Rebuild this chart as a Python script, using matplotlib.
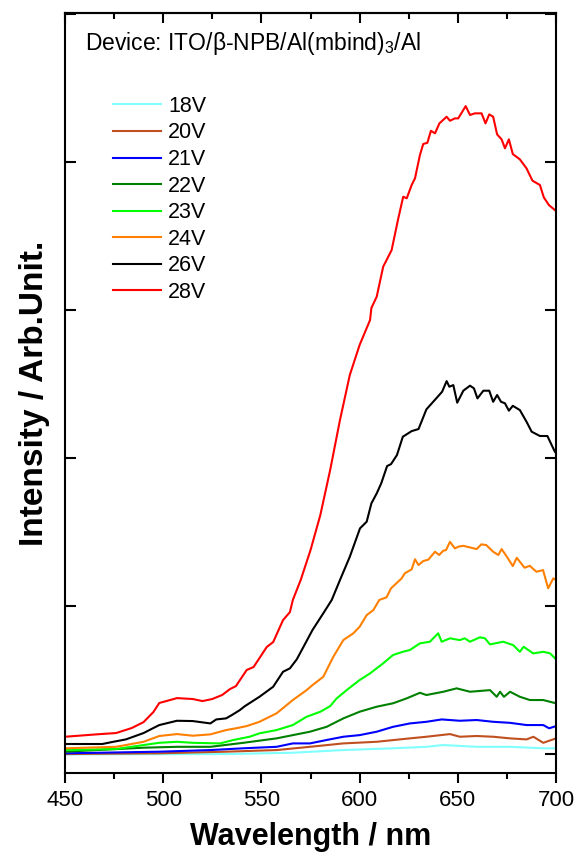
import matplotlib
matplotlib.use("Agg")
import matplotlib.pyplot as plt
from matplotlib.ticker import MultipleLocator, NullFormatter

plt.rcParams['font.family'] = ['Liberation Sans', 'DejaVu Sans']
plt.rcParams['mathtext.fontset'] = 'custom'
plt.rcParams['mathtext.rm'] = 'Liberation Sans'

# spectra (arbitrary units)
wl_18 = [450, 532, 566, 591.7, 617, 634, 642.6, 659.6, 676.6, 693.5, 700]
int_18 = [-0.002, 0.0, 0.009, 0.027, 0.039, 0.049, 0.061, 0.049, 0.049, 0.039, 0.039]

wl_20 = [450, 498, 532, 557.7, 574.7, 591.7, 608.7, 625.6, 634, 646, 651, 659.6,
         668, 676.6, 685, 688.5, 693.5, 700]
int_20 = [0.0, 0.005, 0.016, 0.027, 0.049, 0.072, 0.083, 0.106, 0.117, 0.135, 0.117,
          0.122, 0.117, 0.106, 0.099, 0.117, 0.076, 0.106]

wl_21 = [450, 498, 524, 540.8, 557.7, 566, 574.7, 583.2, 591.7, 600, 608.7, 617,
         625.6, 634, 641.8, 651, 659.6, 668, 676.6, 685, 693.5, 696.5, 700]
int_21 = [0.005, 0.016, 0.027, 0.039, 0.049, 0.072, 0.072, 0.095, 0.117, 0.128,
          0.151, 0.184, 0.207, 0.218, 0.234, 0.225, 0.230, 0.218, 0.211, 0.196,
          0.196, 0.174, 0.189]

wl_22 = [450, 490, 507, 524, 540.8, 557.7, 574.7, 583.2, 591.7, 600, 608.7, 617,
         623.9, 630.7, 634, 642.6, 649.4, 656.2, 666.4, 669.8, 671.5, 673.5, 676.6,
         681.6, 686.7, 693.5, 700]
int_22 = [0.016, 0.043, 0.049, 0.049, 0.076, 0.106, 0.151, 0.184, 0.241, 0.286,
          0.320, 0.343, 0.376, 0.414, 0.399, 0.421, 0.444, 0.421, 0.432, 0.387,
          0.421, 0.387, 0.421, 0.387, 0.365, 0.365, 0.343]

wl_23 = [450, 476, 490, 498, 507, 515, 529, 535.7, 544, 549, 557.7, 566, 573, 580,
         585, 588.3, 593.4, 600, 605.3, 612, 617, 622, 625.6, 630.7, 635.8, 640,
         641.8, 646, 651, 653.5, 656.2, 661.3, 663.8, 666.4, 673.1, 678.2, 681.6,
         683.5, 688.4, 693.5, 697, 700]
int_23 = [0.027, 0.034, 0.061, 0.076, 0.083, 0.076, 0.072, 0.095, 0.117, 0.140,
          0.162, 0.196, 0.252, 0.286, 0.324, 0.376, 0.432, 0.500, 0.545, 0.613,
          0.669, 0.691, 0.703, 0.748, 0.759, 0.816, 0.759, 0.782, 0.770, 0.782,
          0.759, 0.789, 0.782, 0.741, 0.759, 0.736, 0.691, 0.725, 0.680, 0.691,
          0.680, 0.640]

wl_24 = [450, 476, 490, 498, 507, 515, 524, 532, 537, 542.5, 549, 557.7, 566, 573,
         576, 581.5, 586.6, 591.7, 596.8, 600, 603.6, 607, 610, 613.7, 616, 621.4,
         623, 626.5, 628.2, 630, 632.4, 635, 638.4, 640.5, 642.6, 644, 646, 648.5,
         650.5, 652.8, 659.6, 662, 664.5, 668, 670.6, 672.3, 675, 678, 680, 684,
         686.6, 690, 693.4, 696, 698.6, 700]
int_24 = [0.039, 0.049, 0.083, 0.122, 0.135, 0.124, 0.133, 0.162, 0.174, 0.189,
          0.218, 0.275, 0.365, 0.432, 0.466, 0.522, 0.657, 0.770, 0.816, 0.860,
          0.939, 0.973, 1.041, 1.059, 1.120, 1.187, 1.221, 1.248, 1.316, 1.277,
          1.304, 1.314, 1.367, 1.345, 1.374, 1.378, 1.434, 1.390, 1.402, 1.407,
          1.385, 1.417, 1.412, 1.367, 1.345, 1.385, 1.333, 1.270, 1.326, 1.259,
          1.272, 1.232, 1.243, 1.120, 1.187, 1.176]

wl_26 = [450, 469, 474.6, 481, 490, 495, 498, 507, 515, 524, 527, 532, 535, 539,
         541.6, 549, 556, 561, 564.5, 568, 571, 576, 581.5, 585.8, 590, 595, 600.2,
         603.6, 606, 608.7, 611, 614, 616, 619, 622, 626.5, 630, 634, 639, 642,
         644.3, 645.7, 647.7, 649.7, 652.8, 656.2, 658.2, 660, 663, 666, 668, 670,
         672, 674, 676, 678, 681.6, 685, 687.6, 691.8, 695.6, 699.4, 700]
int_26 = [0.068, 0.068, 0.083, 0.099, 0.142, 0.176, 0.196, 0.225, 0.223, 0.207,
          0.234, 0.241, 0.264, 0.297, 0.324, 0.387, 0.455, 0.556, 0.579, 0.640,
          0.714, 0.838, 0.951, 1.041, 1.176, 1.333, 1.525, 1.570, 1.694, 1.761,
          1.829, 1.946, 1.959, 2.020, 2.144, 2.182, 2.196, 2.329, 2.403, 2.448,
          2.520, 2.482, 2.493, 2.374, 2.455, 2.489, 2.471, 2.403, 2.455, 2.455,
          2.380, 2.426, 2.380, 2.370, 2.320, 2.353, 2.324, 2.245, 2.178, 2.149,
          2.149, 2.043, 2.034]

wl_28 = [450, 468, 476, 484, 490, 495, 498, 507, 515, 520, 525, 530, 534, 537,
         542.5, 546, 552.7, 556, 561, 564.5, 566, 570, 575, 580, 585, 590, 595,
         600, 605.3, 606, 608.7, 612, 616.3, 619.7, 622.2, 624, 626.5, 628.2, 630.7,
         632.4, 634.5, 636.3, 638.4, 640.6, 644.3, 646, 648.5, 650.2, 654, 656.2,
         658.7, 662.1, 664.1, 666, 668, 670, 672.3, 674, 676, 678, 681.6, 685, 688,
         691.8, 693.8, 696.4, 699.4, 700]
int_28 = [0.117, 0.135, 0.142, 0.176, 0.216, 0.284, 0.345, 0.378, 0.372, 0.358,
          0.372, 0.399, 0.439, 0.459, 0.568, 0.588, 0.723, 0.757, 0.905, 0.959,
          1.041, 1.176, 1.378, 1.615, 1.919, 2.257, 2.561, 2.764, 2.932, 3.014,
          3.090, 3.293, 3.405, 3.620, 3.766, 3.755, 3.845, 3.890, 4.047, 4.122,
          4.130, 4.211, 4.194, 4.261, 4.306, 4.279, 4.295, 4.295, 4.378, 4.318,
          4.329, 4.329, 4.261, 4.322, 4.306, 4.187, 4.153, 4.093, 4.153, 4.054,
          4.018, 3.957, 3.874, 3.845, 3.761, 3.709, 3.676, 3.669]

labels = ['18V', '20V', '21V', '22V', '23V', '24V', '26V', '28V']
colors = ['#80ffff', '#c0501f', '#0000ff', '#008000', '#00ff00', '#ff8000', '#000000', '#ff0000']
series = [(wl_18, int_18), (wl_20, int_20), (wl_21, int_21), (wl_22, int_22),
          (wl_23, int_23), (wl_24, int_24), (wl_26, int_26), (wl_28, int_28)]

fig = plt.figure(figsize=(5.79, 8.61), dpi=100)
ax = fig.add_axes([0.1123, 0.1022, 0.848, 0.8827])

for (x, y), lab, c in zip(series, labels, colors):
    ax.plot(x, y, color=c, lw=1.5, label=lab)

ax.set_xlim(450, 700)
ax.set_ylim(-0.128, 5.007)
ax.xaxis.set_major_locator(MultipleLocator(50))
ax.xaxis.set_minor_locator(MultipleLocator(25))
ax.yaxis.set_major_locator(MultipleLocator(1))
ax.yaxis.set_major_formatter(NullFormatter())

for s in ax.spines.values():
    s.set_linewidth(1.5)
ax.tick_params(axis='x', which='major', direction='out', length=7, width=1.5,
               labelsize=16, pad=5)
ax.tick_params(axis='x', which='minor', direction='out', length=4, width=1.5)
ax.tick_params(axis='y', which='major', direction='in', length=8, width=1.5,
               right=True)
# mirrored top ticks point inwards
top = ax.secondary_xaxis('top')
top.set_xticks(range(450, 701, 50))
top.xaxis.set_minor_locator(MultipleLocator(25))
top.tick_params(which='major', direction='in', length=7, width=1.5, labeltop=False)
top.tick_params(which='minor', direction='in', length=4, width=1.5)
top.spines['top'].set_linewidth(1.5)

ax.set_xlabel('Wavelength / nm', fontsize=22, fontweight='bold', labelpad=8)
ax.set_ylabel('Intensity / Arb.Unit.', fontsize=24, fontweight='bold', labelpad=7)

ax.text(0.04, 0.978, 'Device: ITO/β-NPB/Al(mbind)$_3$/Al', transform=ax.transAxes,
        fontsize=16.5, va='top', ha='left')

ax.legend(loc='upper left', bbox_to_anchor=(0.098, 0.891), frameon=False,
          fontsize=15.5, handlelength=2.23, handletextpad=0.33, labelspacing=0.26,
          borderpad=0, borderaxespad=0)

fig.savefig('out.png', dpi=100)
